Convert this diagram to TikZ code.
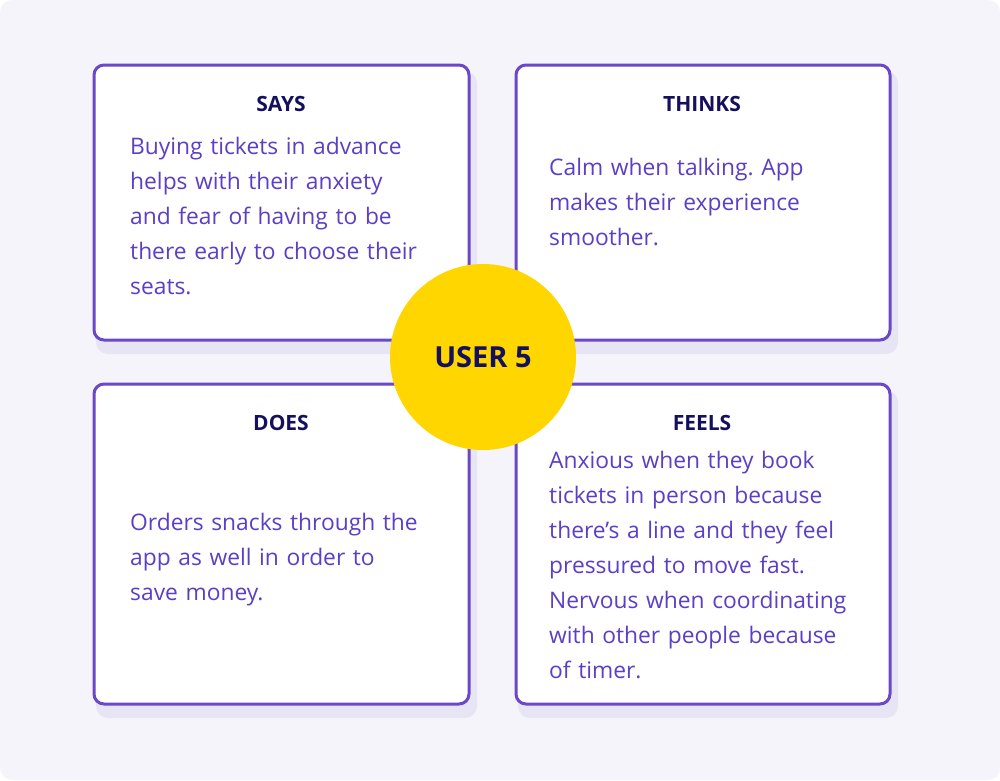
\documentclass[tikz,border=0pt]{standalone}
\usepackage{fontspec}
\setmainfont{Open Sans}
\frenchspacing
\definecolor{bg}{HTML}{F4F4FA}
\definecolor{pborder}{HTML}{6A48C8}
\definecolor{ptext}{HTML}{5B3FC4}
\definecolor{navy}{HTML}{14105E}
\definecolor{yel}{HTML}{FFD600}
\definecolor{shad}{HTML}{DCD8F0}
\begin{document}
\begin{tikzpicture}[x=1pt,y=-1pt,
  card/.style={draw=pborder,line width=3pt,rounded corners=10pt,fill=white},
  head/.style={text=navy,font=\bfseries\fontsize{21}{24}\selectfont},
  body/.style={anchor=west,text=ptext,align=left,text width=340pt,inner sep=0pt,font=\fontsize{22.8}{35}\selectfont}]
\fill[bg,rounded corners=12pt] (0,0) rectangle (1000,780);
\useasboundingbox (0,0) rectangle (1000,780);
\foreach \x/\y/\w/\h in {94/65/375/275,516/65/374/275,94/384/375/320,516/384/374/320}{
  \fill[shad,rounded corners=12pt,opacity=0.5] (\x+2,\y+6) rectangle ++(\w+6,\h+8);
}
\draw[card] (94,65) rectangle (469,340) node[pos=0] (says) {};
\draw[card] (516,65) rectangle (890,340) node[pos=0] (thinks) {};
\draw[card] (94,384) rectangle (469,704) node[pos=0] (does) {};
\draw[card] (516,384) rectangle (890,704) node[pos=0] (feels) {};
\node[head] (h1) at (281,104) {SAYS};
\node[head] (h2) at (702,104) {THINKS};
\node[head] (h3) at (281,423) {DOES};
\node[head] (h4) at (702,423) {FEELS};
\node[body,anchor=north west] (t1) at (130,137) {Buying tickets in advance\\helps with their anxiety\\and fear of having to be\\there early to choose their\\seats.};
\node[body,anchor=north west] (t2) at (549,158) {Calm when talking. App\\makes their experience\\smoother.};
\node[body,anchor=north west] (t3) at (130,513) {Orders snacks through the\\app as well in order to\\save money.};
\node[body,anchor=north west] (t4) at (549,451) {Anxious when they book\\tickets in person because\\there's a line and they feel\\pressured to move fast.\\Nervous when coordinating\\with other people because\\of timer.};
\node[circle,fill=yel,minimum size=186pt,text=navy,font=\bfseries\fontsize{29}{34}\selectfont] (user) at (483,357) {USER 5};
\end{tikzpicture}
\end{document}
